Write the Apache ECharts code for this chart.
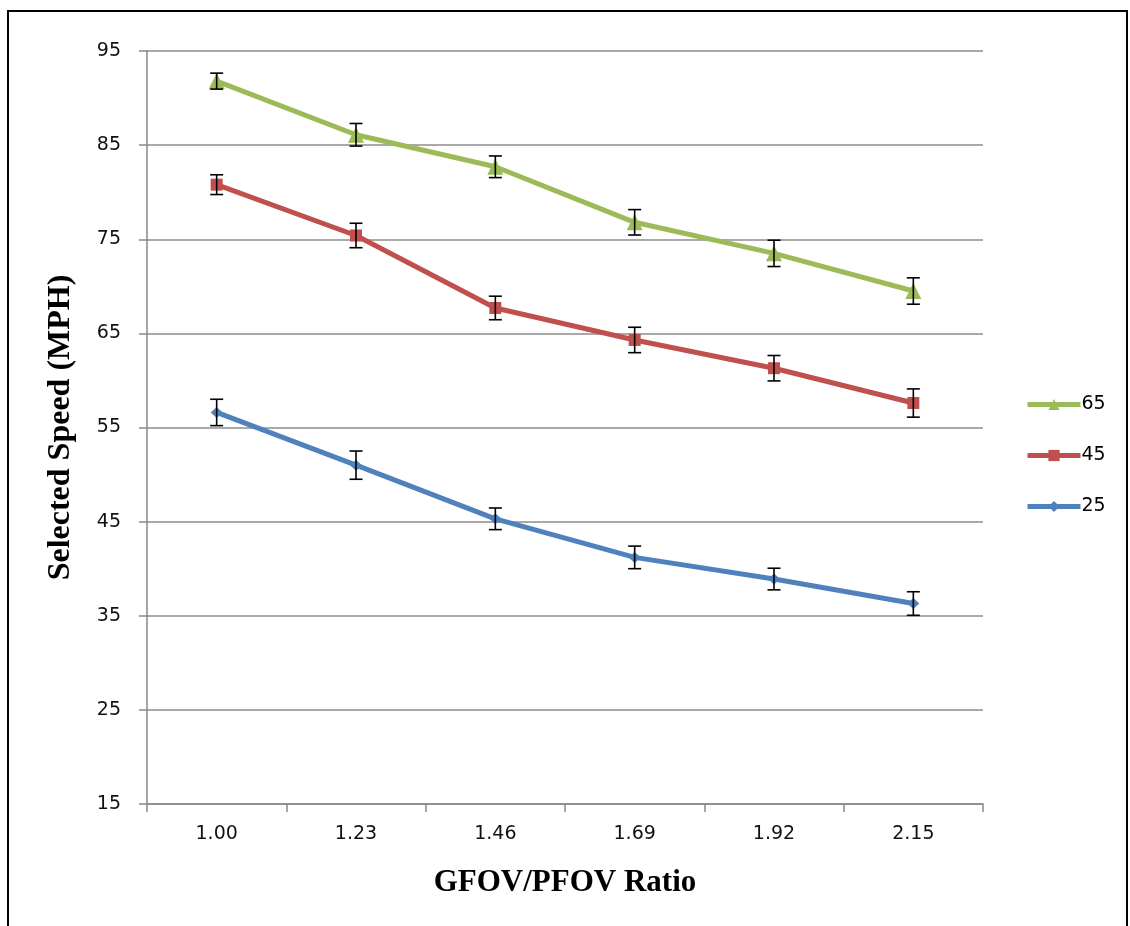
<!DOCTYPE html>
<html>
<head>
<meta charset="utf-8">
<script src="https://cdn.jsdelivr.net/npm/echarts@6/dist/echarts.min.js"></script>
<style>
html,body{margin:0;padding:0;background:#fff;}
#chart{width:1130px;height:926px;}
</style>
</head>
<body>
<div id="chart"></div>
<script>
// ---- data ----
const categories = ['1.00', '1.23', '1.46', '1.69', '1.92', '2.15'];
const seriesNames = ['65', '45', '25'];
const speed65 = [91.8, 86.1, 82.7, 76.8, 73.5, 69.5];
const err65   = [0.85, 1.2, 1.15, 1.35, 1.4, 1.4];
const speed45 = [80.8, 75.4, 67.7, 64.3, 61.3, 57.6];
const err45   = [1.05, 1.3, 1.25, 1.35, 1.35, 1.5];
const speed25 = [56.6, 51.0, 45.3, 41.2, 38.9, 36.3];
const err25   = [1.4, 1.5, 1.15, 1.2, 1.15, 1.25];
const yTicks = { min: 15, max: 95, step: 10 };

const colors = { '65': '#9BBB59', '45': '#C0504D', '25': '#4F81BD' };

function errData(vals, errs) {
  return vals.map((v, i) => [i, v - errs[i], v + errs[i]]);
}

function errorSeries(vals, errs) {
  return {
    type: 'custom',
    z: 10,
    silent: true,
    data: errData(vals, errs),
    encode: { x: 0, y: [1, 2] },
    renderItem: function (params, api) {
      const lo = api.coord([api.value(0), api.value(1)]);
      const hi = api.coord([api.value(0), api.value(2)]);
      const hw = 6.5;
      const st = { stroke: '#000', lineWidth: 1.6 };
      return {
        type: 'group',
        children: [
          { type: 'line', shape: { x1: lo[0], y1: lo[1], x2: hi[0], y2: hi[1] }, style: st },
          { type: 'line', shape: { x1: lo[0] - hw, y1: lo[1], x2: lo[0] + hw, y2: lo[1] }, style: st },
          { type: 'line', shape: { x1: hi[0] - hw, y1: hi[1], x2: hi[0] + hw, y2: hi[1] }, style: st }
        ]
      };
    }
  };
}

function lineSeries(name, vals, symbol, size) {
  return {
    name: name,
    type: 'line',
    data: vals,
    symbol: symbol,
    symbolSize: size,
    z: 5,
    itemStyle: { color: colors[name] },
    lineStyle: { color: colors[name], width: 5 }
  };
}

const chart = echarts.init(document.getElementById('chart'), null, { renderer: 'canvas' });

const tickFont = { fontFamily: 'DejaVu Sans', fontSize: 19, color: '#111' };

chart.setOption({
  backgroundColor: '#fff',
  animation: false,
  grid: { left: 147, right: 147, top: 51, bottom: 122, containLabel: false },
  legend: {
    orient: 'vertical',
    left: 1020,
    top: 390,
    itemWidth: 53,
    itemHeight: 14,
    itemGap: 32,
    data: seriesNames,
    lineStyle: { width: 5 },
    textStyle: { fontFamily: 'DejaVu Sans', fontSize: 19, color: '#000', padding: [0, 0, 0, -4] }
  },
  xAxis: {
    type: 'category',
    data: categories,
    boundaryGap: true,
    name: 'GFOV/PFOV Ratio',
    nameLocation: 'middle',
    nameGap: 63,
    nameTextStyle: { fontFamily: 'Liberation Serif', fontWeight: 'bold', fontSize: 31, color: '#000' },
    axisLine: { lineStyle: { color: '#888', width: 1.5 } },
    axisTick: { show: true, length: 8, alignWithLabel: false, lineStyle: { color: '#888', width: 1.5 } },
    axisLabel: Object.assign({ margin: 21 }, tickFont),
    splitLine: { show: false }
  },
  yAxis: {
    type: 'value',
    min: yTicks.min,
    max: yTicks.max,
    interval: yTicks.step,
    name: 'Selected Speed (MPH)',
    nameLocation: 'middle',
    nameGap: 70,
    nameTextStyle: { fontFamily: 'Liberation Serif', fontWeight: 'bold', fontSize: 32, color: '#000' },
    axisLine: { show: true, lineStyle: { color: '#888', width: 1.5 } },
    axisTick: { show: true, length: 8, lineStyle: { color: '#888', width: 1.5 } },
    axisLabel: Object.assign({ margin: 26 }, tickFont),
    splitLine: { show: true, lineStyle: { color: '#8c8c8c', width: 1.5 } }
  },
  series: [
    lineSeries('65', speed65, 'triangle', 16),
    lineSeries('45', speed45, 'rect', 12),
    lineSeries('25', speed25, 'diamond', [12, 11]),
    errorSeries(speed65, err65),
    errorSeries(speed45, err45),
    errorSeries(speed25, err25)
  ],
  graphic: [
    { type: 'polyline', silent: true, shape: { points: [[8, 940], [8, 11], [1127, 11], [1127, 940]] }, style: { stroke: '#000', lineWidth: 2, fill: null } }
  ]
});
</script>
</body>
</html>
